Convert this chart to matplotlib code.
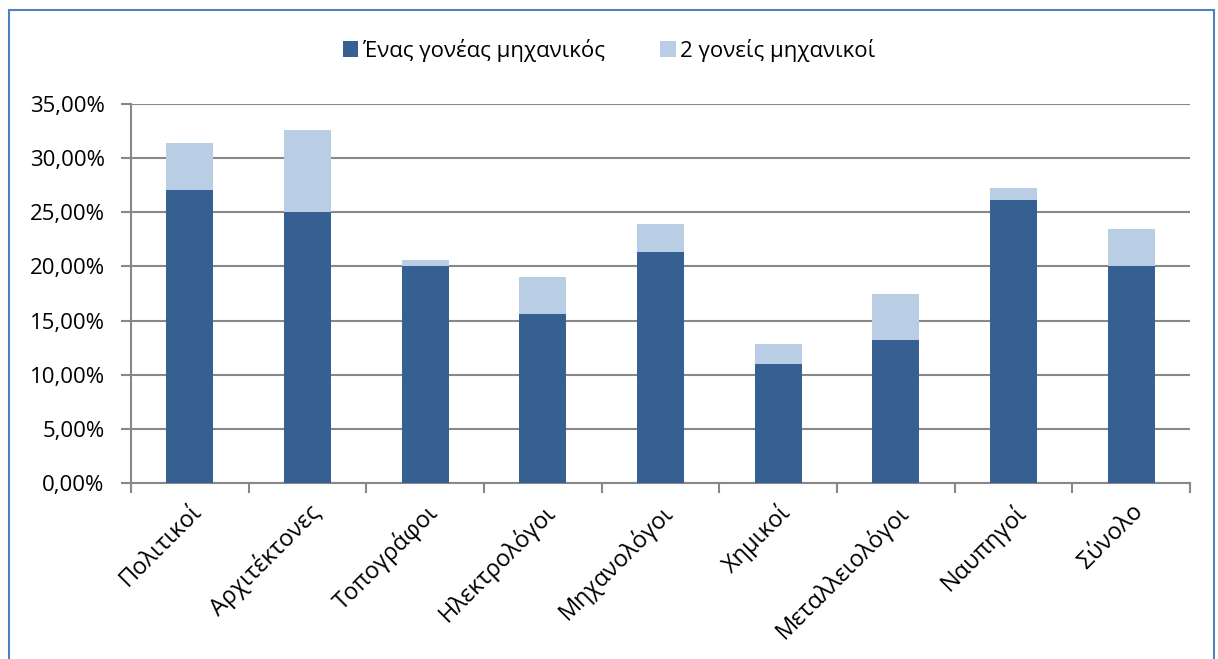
import matplotlib.pyplot as plt
from matplotlib.patches import Rectangle
from matplotlib.ticker import FuncFormatter, MultipleLocator
import numpy as np

plt.rcParams['font.family'] = ['Open Sans', 'DejaVu Sans']

categories = ['Πολιτικοί', 'Αρχιτέκτονες', 'Τοπογράφοι', 'Ηλεκτρολόγοι', 'Μηχανολόγοι',
              'Χημικοί', 'Μεταλλειολόγοι', 'Ναυπηγοί', 'Σύνολο']
one_parent = [27.1, 25.0, 20.0, 15.65, 21.3, 10.95, 13.25, 26.1, 20.0]
total = [31.4, 32.6, 20.6, 19.0, 23.9, 12.8, 17.5, 27.2, 23.5]
two_parents = [t - o for t, o in zip(total, one_parent)]

fig = plt.figure(figsize=(12.18, 6.59), dpi=100)
# outer chart frame
fig.patches.append(Rectangle((9 / 1218, -0.05), 1205 / 1218, 1.05 - 10 / 659,
                             transform=fig.transFigure, fill=False,
                             edgecolor='#4F81BD', linewidth=1.5))

ax = fig.add_axes([131 / 1218, 1 - 483 / 659, 1059 / 1218, 379 / 659])
x = np.arange(len(categories))
ax.bar(x, one_parent, width=0.4, color='#366092', label='Ένας γονέας μηχανικός', zorder=3)
ax.bar(x, two_parents, width=0.4, bottom=one_parent, color='#B9CDE5',
       label='2 γονείς μηχανικοί', zorder=3)

ax.set_xlim(-0.5, len(categories) - 0.5)
ax.set_ylim(0, 35)
ax.yaxis.set_major_locator(MultipleLocator(5))
ax.yaxis.set_major_formatter(FuncFormatter(lambda v, p: f'{v:.2f}%'.replace('.', ',')))
ax.grid(axis='y', color='#888888', linewidth=1.5, zorder=0)

ax.set_xticks(x)
ax.set_xticklabels(categories, rotation=45, ha='right', rotation_mode='anchor', fontsize=17)
ax.set_xticks(np.arange(len(categories) + 1) - 0.5, minor=True)
ax.tick_params(axis='x', which='major', length=0, pad=12)
ax.tick_params(axis='x', which='minor', length=7, width=1.5, color='#888888', direction='out')
ax.tick_params(axis='y', length=7, width=1.5, color='#888888', labelsize=16, pad=12)

for side in ['top', 'right']:
    ax.spines[side].set_visible(False)
for side in ['left', 'bottom']:
    ax.spines[side].set_color('#888888')
    ax.spines[side].set_linewidth(1.5)

fig.legend(loc='center', bbox_to_anchor=(0.5, 1 - 50 / 659), ncol=2, frameon=False,
           fontsize=16, handlelength=0.7, handleheight=0.7, handletextpad=0.2,
           columnspacing=2.5)

fig.savefig('out.png', dpi=100)
